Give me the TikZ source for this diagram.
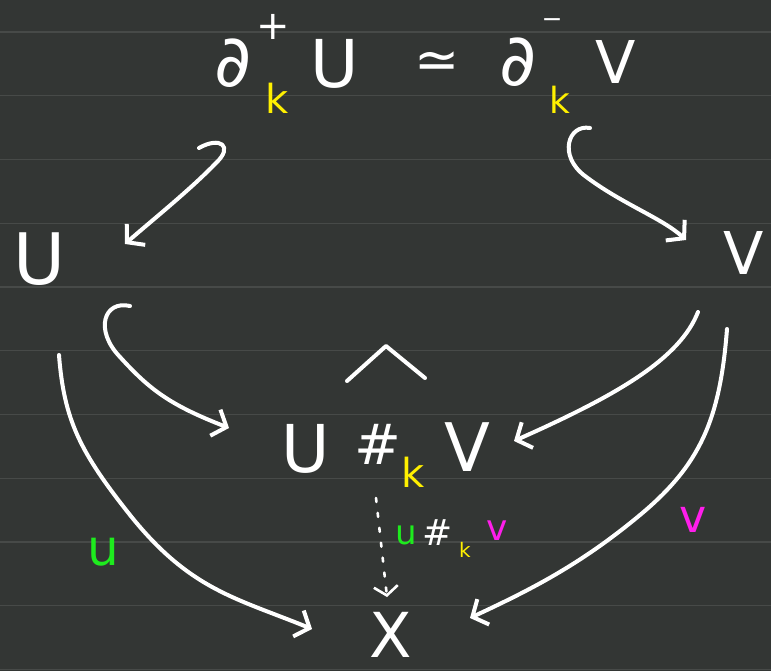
\documentclass[tikz,border=0pt]{standalone}
\usepackage{fontspec}
\setmainfont{DejaVu Sans}
\usetikzlibrary{arrows.meta}
\definecolor{bg}{HTML}{333634}
\definecolor{rulec}{HTML}{474A48}
\definecolor{ky}{HTML}{FFF000}
\definecolor{ug}{HTML}{1EEB1E}
\definecolor{vm}{HTML}{FF1EEB}
\newcommand{\fsz}[1]{\fontsize{#1}{#1}\selectfont}
\begin{document}
\begin{tikzpicture}[x=1pt,y=-1pt,
  glyph/.style={text=white, inner sep=0pt, anchor=center},
  kglyph/.style={text=ky, inner sep=0pt, anchor=center},
  arr/.style={draw=white, line width=4pt, line cap=round, line join=round,
    -{Straight Barb[length=12pt,width=28pt]}},
  dotarr/.style={draw=white, line width=2.6pt, line cap=round,
    dash pattern=on 4pt off 11pt, -{Straight Barb[length=9pt,width=24pt]}},
  stroke/.style={draw=white, line width=4pt, line cap=round, line join=round}]
\useasboundingbox (0,0) rectangle (771,671);
\fill[bg] (0,0) rectangle (771,671);
\foreach \k in {0,...,10}
  \draw[rulec, line width=1.2pt] (0,{32+63.75*\k}) -- (771,{32+63.75*\k});

% top: boundary iso
\node[glyph] (d1) at (233,63) {\fsz{72}∂};
\node[glyph] (p1) at (273,27) {\fsz{40}+};
\node[kglyph] (k1) at (277,98) {\fsz{40}k};
\node[glyph] (U1) at (335,64) {\fsz{66}U};
\node[glyph] (sim) at (437,65) {\fsz{54}≃};
\node[glyph] (d2) at (518,62) {\fsz{72}∂};
\node[glyph] (m2) at (552,23) {\fsz{25}−};
\node[kglyph] (k2) at (560,100) {\fsz{36}k};
\node[glyph] (V1) at (616,62) {\fsz{59}V};

% middle
\node[glyph] (U) at (39,259) {\fsz{71}U};
\node[glyph] (V) at (744,253) {\fsz{59}V};

% glued
\node[glyph] (UVu) at (306,449) {\fsz{66}U};
\node[glyph] (UVh) at (378,444) {\fsz{56}\#};
\node[kglyph] (UVk) at (413,472) {\fsz{40}k};
\node[glyph] (UVv) at (467,447) {\fsz{67}V};
\draw[stroke] (347,381) -- (386,346) -- (425,378);

% bottom
\node[glyph] (X) at (391,635) {\fsz{62}X};

% labels
\node[text=ug, inner sep=0pt] (lu) at (103,552) {\fsz{50}u};
\node[text=vm, inner sep=0pt] (lv) at (693,520) {\fsz{46}v};
\node[text=ug, inner sep=0pt] (su) at (406,535) {\fsz{34}u};
\node[glyph] (sh) at (438,533) {\fsz{36}\#};
\node[kglyph] (sk) at (465,550) {\fsz{20}k};
\node[text=vm, inner sep=0pt] (sv) at (497,531) {\fsz{36}v};

% arrow endpoints
\coordinate (a1s) at (199,148);
\coordinate (a1e) at (125,244);
\coordinate (a2s) at (590,128);
\coordinate (a2e) at (686,240);
\coordinate (a3s) at (130,306);
\coordinate (a3e) at (229,428);
\coordinate (a4s) at (698,312);
\coordinate (a4e) at (514,441);
\coordinate (a5s) at (59,355);
\coordinate (a5e) at (312,629);
\coordinate (a6s) at (727,329);
\coordinate (a6e) at (470,618);
\coordinate (a7s) at (376,498);
\coordinate (a7e) at (387,597);

\draw[arr] (a1s) .. controls (220,136) and (234,146) .. (216,163)
  .. controls (190,190) and (150,222) .. (a1e);
\draw[arr] (a2s) .. controls (568,124) and (558,156) .. (585,176)
  .. controls (622,204) and (662,218) .. (a2e);
\draw[arr] (a3s) .. controls (104,300) and (94,330) .. (120,357)
  .. controls (150,390) and (170,405) .. (a3e);
\draw[arr] (a4s) .. controls (680,358) and (620,394) .. (a4e);
\draw[arr] (a5s) .. controls (64,420) and (80,452) .. (130,515)
  .. controls (190,590) and (236,598) .. (a5e);
\draw[arr] (a6s) .. controls (720,420) and (700,465) .. (640,515)
  .. controls (580,565) and (530,590) .. (a6e);
\draw[dotarr] (a7s) -- (a7e);
\end{tikzpicture}
\end{document}
